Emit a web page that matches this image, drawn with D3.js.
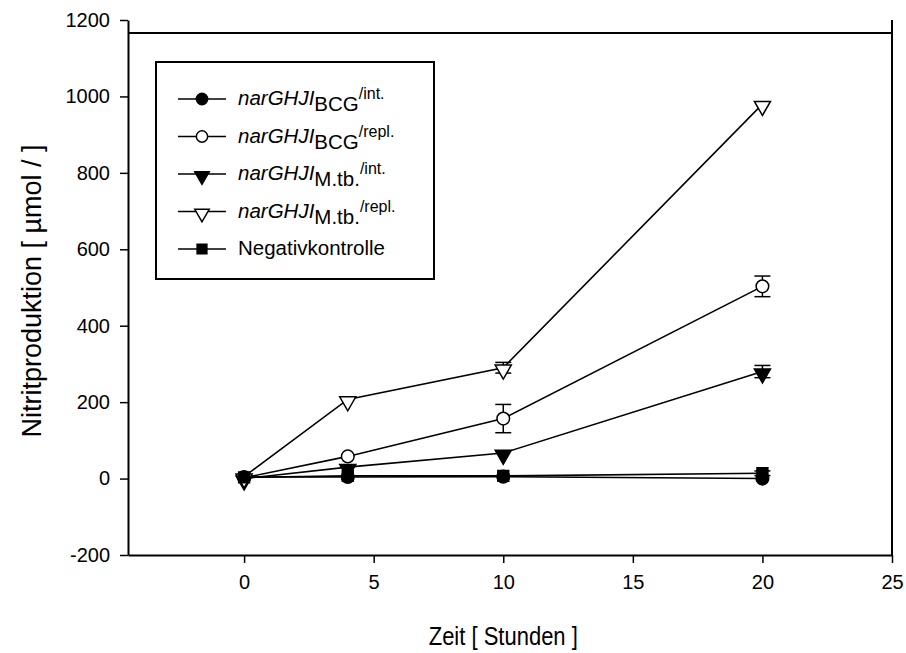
<!DOCTYPE html>
<html>
<head>
<meta charset="utf-8">
<script src="https://cdn.jsdelivr.net/npm/d3@7"></script>
<style>
  body { margin: 0; background: #fff; }
  text { font-family: "Liberation Sans", Arial, sans-serif; fill: #000; }
</style>
</head>
<body>
<script>
// data
var hours = [0, 4, 10, 20];
var bcgInt = [4, 4, 5, 0];
var bcgIntErr = [0, 0, 0, 0];
var bcgRepl = [2, 58, 157, 503];
var bcgReplErr = [0, 0, 37, 27];
var mtbInt = [0, 30, 67, 280];
var mtbIntErr = [0, 0, 0, 16];
var mtbRepl = [5, 207, 290, 980];
var mtbReplErr = [0, 0, 14, 0];
var negKontrolle = [3, 7, 7, 14];
var negKontrolleErr = [0, 0, 0, 6];

var xTicks = [0, 5, 10, 15, 20, 25];
var yTicks = [-200, 0, 200, 400, 600, 800, 1000, 1200];

var series = [
  { sub: 'BCG', tail: '/int.', name: null, y: bcgInt, err: bcgIntErr, shape: 'circle', fill: '#000' },
  { sub: 'BCG', tail: '/repl.', name: null, y: bcgRepl, err: bcgReplErr, shape: 'circle', fill: '#fff' },
  { sub: 'M.tb.', tail: '/int.', name: null, y: mtbInt, err: mtbIntErr, shape: 'tri', fill: '#000' },
  { sub: 'M.tb.', tail: '/repl.', name: null, y: mtbRepl, err: mtbReplErr, shape: 'tri', fill: '#fff' },
  { sub: null, tail: null, name: 'Negativkontrolle', y: negKontrolle, err: negKontrolleErr, shape: 'square', fill: '#000' }
];

var width = 906, height = 653;
var plotLeft = 128, plotRight = 892, plotTop = 20, plotBottom = 555;

var svg = d3.select('body').append('svg')
  .attr('width', width)
  .attr('height', height);

var x = d3.scaleLinear().domain([-4.48, 25]).range([plotLeft, plotRight]);
var y = d3.scaleLinear().domain([-200, 1200]).range([plotBottom, plotTop]);

// axes
svg.append('g')
  .attr('transform', 'translate(0,' + plotBottom + ')')
  .call(d3.axisBottom(x).tickValues(xTicks).tickFormat(function(d) { return String(d); })
    .tickSize(8).tickPadding(12).tickSizeOuter(0))
  .call(function(g) {
    g.select('.domain').attr('stroke-width', 2);
    g.selectAll('.tick line').attr('stroke-width', 1.5);
    g.selectAll('text').attr('font-size', 20);
  });

svg.append('g')
  .attr('transform', 'translate(' + plotLeft + ',0)')
  .call(d3.axisLeft(y).tickValues(yTicks).tickFormat(function(d) { return String(d); })
    .tickSize(8).tickPadding(10).tickSizeOuter(0))
  .call(function(g) {
    g.select('.domain').attr('stroke-width', 2);
    g.selectAll('.tick line').attr('stroke-width', 1.5);
    g.selectAll('text').attr('font-size', 20);
  });

// frame: right side and the top line
svg.append('line')
  .attr('x1', plotRight).attr('x2', plotRight)
  .attr('y1', y(1200)).attr('y2', plotBottom)
  .attr('stroke', '#000').attr('stroke-width', 2);
svg.append('line')
  .attr('x1', plotLeft).attr('x2', plotRight)
  .attr('y1', y(1166)).attr('y2', y(1166))
  .attr('stroke', '#000').attr('stroke-width', 2);

// axis titles (x title looks a bit squeezed sideways in the picture)
svg.append('text')
  .attr('transform', 'translate(' + x(10) + ',645) scale(0.88,1)')
  .attr('text-anchor', 'middle')
  .attr('font-size', 25)
  .text('Zeit [ Stunden ]');

svg.append('text')
  .attr('transform', 'translate(41,' + 291 + ') rotate(-90)')
  .attr('text-anchor', 'middle')
  .attr('font-size', 27)
  .text('Nitritproduktion [ µmol / ]');

function symbolFor(shape, size) {
  if (shape === 'circle') return d3.symbol().type(d3.symbolCircle).size(size)();
  if (shape === 'square') return d3.symbol().type(d3.symbolSquare).size(size * 0.95)();
  return d3.symbol().type(d3.symbolTriangle).size(size * 0.9)();
}
function markerTransform(shape, px, py) {
  if (shape === 'tri') return 'translate(' + px + ',' + (py + 2) + ') rotate(180)';
  return 'translate(' + px + ',' + py + ')';
}

var line = d3.line()
  .x(function(d) { return x(d.t); })
  .y(function(d) { return y(d.v); });

// lines first
series.forEach(function(s) {
  var pts = hours.map(function(h, i) { return { t: h, v: s.y[i], e: s.err[i] }; });
  s.pts = pts;
  svg.append('path')
    .datum(pts)
    .attr('d', line)
    .attr('fill', 'none')
    .attr('stroke', '#000')
    .attr('stroke-width', 1.6);
});

// error bars and markers
series.forEach(function(s) {
  var g = svg.append('g');
  s.pts.filter(function(d) { return d.e > 0; }).forEach(function(d) {
    var cx = x(d.t);
    g.append('line').attr('x1', cx).attr('x2', cx)
      .attr('y1', y(d.v - d.e)).attr('y2', y(d.v + d.e))
      .attr('stroke', '#000').attr('stroke-width', 1.5);
    [d.v - d.e, d.v + d.e].forEach(function(v) {
      g.append('line').attr('x1', cx - 8).attr('x2', cx + 8)
        .attr('y1', y(v)).attr('y2', y(v))
        .attr('stroke', '#000').attr('stroke-width', 1.5);
    });
  });
  g.selectAll('path')
    .data(s.pts)
    .enter().append('path')
    .attr('d', symbolFor(s.shape, 125))
    .attr('transform', function(d) { return markerTransform(s.shape, x(d.t), y(d.v)); })
    .attr('fill', s.fill)
    .attr('stroke', '#000')
    .attr('stroke-width', 1.5);
});

// legend
var legend = svg.append('g');
legend.append('rect')
  .attr('x', 156).attr('y', 62)
  .attr('width', 278).attr('height', 217)
  .attr('fill', '#fff')
  .attr('stroke', '#000')
  .attr('stroke-width', 2);

series.forEach(function(s, i) {
  var ry = 99 + i * 37.5;
  legend.append('line')
    .attr('x1', 178).attr('x2', 226)
    .attr('y1', ry).attr('y2', ry)
    .attr('stroke', '#000').attr('stroke-width', 1.6);
  legend.append('path')
    .attr('d', symbolFor(s.shape, 100))
    .attr('transform', markerTransform(s.shape, 202, ry))
    .attr('fill', s.fill)
    .attr('stroke', '#000')
    .attr('stroke-width', 1.5);
  var t = legend.append('text')
    .attr('x', 238).attr('y', ry + 6)
    .attr('font-size', 20.5);
  if (s.name) {
    t.text(s.name);
  } else {
    t.append('tspan').attr('font-style', 'italic').text('narGHJI');
    t.append('tspan').attr('dy', 6).text(s.sub);
    t.append('tspan').attr('dy', -12).attr('font-size', 16).text(s.tail);
  }
});
</script>
</body>
</html>
